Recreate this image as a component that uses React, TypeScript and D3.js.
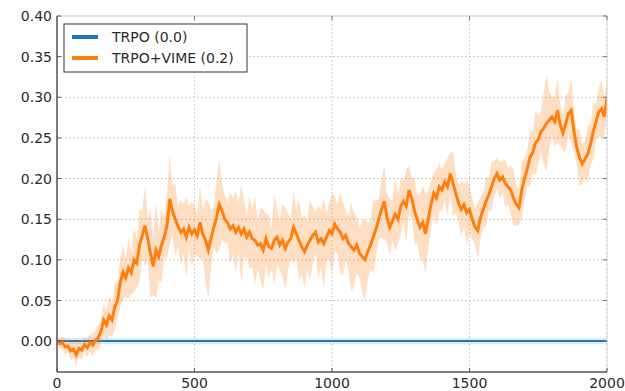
import * as d3 from 'd3'

const STEP = 10
const X_TICKS = [0, 500, 1000, 1500, 2000]
const Y_TICKS = [0, 0.05, 0.1, 0.15, 0.2, 0.25, 0.3, 0.35, 0.4]

const TRPO_ITERS = [0, 2000]
const TRPO_MEAN = [0, 0]
const TRPO_SPREAD = [0.004, 0.004]

// TRPO+VIME mean, one value every 10 iterations (0..2000)
const VIME_MEAN = [
  0.000,
  -0.003, -0.002, -0.007, -0.006, -0.012, -0.010, -0.017, -0.009, -0.011, -0.004,
  -0.008, -0.002, -0.005, 0.001, 0.004, 0.012, 0.026, 0.020, 0.031, 0.026,
  0.042, 0.050, 0.072, 0.085, 0.078, 0.090, 0.084, 0.100, 0.096, 0.118,
  0.130, 0.142, 0.126, 0.108, 0.092, 0.112, 0.104, 0.118, 0.128, 0.142,
  0.175, 0.160, 0.150, 0.141, 0.134, 0.138, 0.128, 0.140, 0.132, 0.137,
  0.130, 0.146, 0.132, 0.124, 0.112, 0.126, 0.140, 0.152, 0.168, 0.160,
  0.150, 0.146, 0.138, 0.142, 0.134, 0.140, 0.132, 0.138, 0.128, 0.134,
  0.126, 0.124, 0.118, 0.120, 0.112, 0.126, 0.116, 0.114, 0.124, 0.128,
  0.118, 0.124, 0.114, 0.122, 0.126, 0.140, 0.132, 0.124, 0.116, 0.110,
  0.118, 0.124, 0.130, 0.134, 0.122, 0.126, 0.120, 0.128, 0.136, 0.132,
  0.144, 0.138, 0.134, 0.126, 0.130, 0.120, 0.116, 0.112, 0.118, 0.108,
  0.104, 0.100, 0.110, 0.118, 0.128, 0.138, 0.150, 0.162, 0.172, 0.152,
  0.140, 0.148, 0.156, 0.150, 0.166, 0.172, 0.166, 0.186, 0.176, 0.160,
  0.150, 0.140, 0.146, 0.132, 0.150, 0.168, 0.182, 0.176, 0.190, 0.186,
  0.196, 0.190, 0.206, 0.194, 0.182, 0.170, 0.162, 0.168, 0.158, 0.162,
  0.150, 0.140, 0.136, 0.152, 0.162, 0.172, 0.180, 0.190, 0.200, 0.206,
  0.198, 0.202, 0.194, 0.190, 0.186, 0.176, 0.168, 0.164, 0.186, 0.200,
  0.212, 0.226, 0.232, 0.244, 0.248, 0.258, 0.262, 0.268, 0.272, 0.276,
  0.270, 0.284, 0.266, 0.256, 0.268, 0.280, 0.284, 0.258, 0.238, 0.226,
  0.218, 0.224, 0.230, 0.242, 0.258, 0.270, 0.282, 0.286, 0.276, 0.300,
]

// half width of the shaded band, same spacing
const VIME_SPREAD = [
  0.004, 0.006, 0.008, 0.010, 0.008, 0.012, 0.010, 0.014, 0.010, 0.012, 0.008, 0.012, 0.010, 0.014, 0.012, 0.016,
  0.015, 0.020, 0.018, 0.024, 0.020, 0.028, 0.022, 0.030, 0.034, 0.024, 0.038, 0.026, 0.040, 0.030, 0.045,
  0.030, 0.050, 0.025, 0.055, 0.035, 0.060, 0.030, 0.045, 0.025, 0.040,
  0.055, 0.030, 0.045, 0.025, 0.040, 0.030, 0.050, 0.025, 0.040, 0.030,
  0.025, 0.045, 0.030, 0.050, 0.060, 0.035, 0.025, 0.045, 0.055, 0.035,
  0.030, 0.025, 0.045, 0.035, 0.050, 0.030, 0.060, 0.035, 0.025, 0.045,
  0.035, 0.055, 0.030, 0.045, 0.050, 0.030, 0.040, 0.025, 0.055, 0.035,
  0.030, 0.045, 0.050, 0.035, 0.025, 0.045, 0.030, 0.050, 0.035, 0.045,
  0.030, 0.050, 0.035, 0.025, 0.045, 0.035, 0.055, 0.030, 0.035, 0.050,
  0.035, 0.030, 0.050, 0.045, 0.030, 0.035, 0.055, 0.045, 0.035, 0.030,
  0.045, 0.050, 0.035, 0.030, 0.045, 0.035, 0.025, 0.035, 0.045, 0.030,
  0.035, 0.025, 0.045, 0.030, 0.035, 0.025, 0.045, 0.030, 0.025, 0.040,
  0.030, 0.040, 0.045, 0.050, 0.035, 0.030, 0.025, 0.035, 0.030, 0.025,
  0.022, 0.035, 0.025, 0.040, 0.025, 0.022, 0.035, 0.025, 0.040, 0.030,
  0.025, 0.022, 0.035, 0.025, 0.022, 0.030, 0.020, 0.030, 0.022, 0.020,
  0.022, 0.020, 0.030, 0.022, 0.030, 0.035, 0.025, 0.022, 0.035, 0.025,
  0.022, 0.035, 0.025, 0.040, 0.030, 0.025, 0.045, 0.060, 0.035, 0.025,
  0.030, 0.040, 0.025, 0.022, 0.035, 0.025, 0.040, 0.025, 0.022, 0.035,
  0.025, 0.022, 0.035, 0.025, 0.035, 0.022, 0.030, 0.035, 0.025, 0.022,
]

const SERIES = [
  { name: 'TRPO (0.0)', color: '#1f77b4' },
  { name: 'TRPO+VIME (0.2)', color: '#ff7f0e' },
]

const W = 625
const H = 391
const pad = { l: 57, r: 18, t: 16, b: 19 }
const FONT = 'DejaVu Sans, sans-serif'
const TEXT = '#2b2b2b'

type Pt = { x: number; m: number; s: number }

export default function App() {
  const x = d3.scaleLinear().domain([0, 2000]).range([pad.l, W - pad.r])
  const y = d3.scaleLinear().domain([-0.038, 0.4]).range([H - pad.b, pad.t])

  const vime: Pt[] = VIME_MEAN.map((m, i) => ({ x: i * STEP, m, s: VIME_SPREAD[i] }))
  const trpo: Pt[] = TRPO_ITERS.map((it, i) => ({ x: it, m: TRPO_MEAN[i], s: TRPO_SPREAD[i] }))

  const band = d3.area<Pt>().x(d => x(d.x)).y0(d => y(d.m - d.s)).y1(d => y(d.m + d.s))
  const line = d3.line<Pt>().x(d => x(d.x)).y(d => y(d.m))

  const [x0, x1] = x.range()
  const [yb, yt] = y.range()

  return (
    <svg width={W} height={H} style={{ position: 'fixed', left: 0, top: 0, background: '#fff' }}>
      <defs>
        <clipPath id="plot">
          <rect x={x0} y={yt} width={x1 - x0} height={yb - yt} />
        </clipPath>
      </defs>
      <rect x={0} y={0} width={W} height={H} fill="#fff" />

      {/* grid */}
      {Y_TICKS.map(t => (
        <line key={'gy' + t} x1={x0} x2={x1} y1={y(t)} y2={y(t)} stroke="#b5b5b5" strokeWidth={1} strokeDasharray="1.5,2.5" />
      ))}
      {X_TICKS.map(t => (
        <line key={'gx' + t} x1={x(t)} x2={x(t)} y1={yt} y2={yb} stroke="#c4c4c4" strokeWidth={1} strokeDasharray="1.5,2.5" />
      ))}

      <g clipPath="url(#plot)">
        <path d={band(trpo) || ''} fill={SERIES[0].color} opacity={0.15} />
        <path d={line(trpo) || ''} fill="none" stroke={SERIES[0].color} strokeWidth={2} />
        <path d={band(vime) || ''} fill={SERIES[1].color} opacity={0.25} />
        <path d={line(vime) || ''} fill="none" stroke={SERIES[1].color} strokeWidth={3} strokeLinejoin="miter" />
      </g>

      {/* frame */}
      <line x1={x0} x2={x1} y1={yt} y2={yt} stroke="#d6d6d6" strokeWidth={1} />
      <line x1={x1} x2={x1} y1={yt} y2={yb} stroke="#d6d6d6" strokeWidth={1} />
      <line x1={x0} x2={x0} y1={yt} y2={yb} stroke="#555" strokeWidth={1.5} />
      <line x1={x0} x2={x1} y1={yb} y2={yb} stroke="#555" strokeWidth={1.5} />

      {/* ticks */}
      {Y_TICKS.map(t => (
        <g key={'ty' + t}>
          <line x1={x0} x2={x0 + 4} y1={y(t)} y2={y(t)} stroke="#555" />
          <line x1={x1} x2={x1 - 4} y1={y(t)} y2={y(t)} stroke="#777" />
          <text x={x0 - 5} y={y(t)} dy="0.36em" textAnchor="end" fontSize={14} fontFamily={FONT} fill={TEXT}>
            {t.toFixed(2)}
          </text>
        </g>
      ))}
      {X_TICKS.map(t => (
        <g key={'tx' + t}>
          <line x1={x(t)} x2={x(t)} y1={yb} y2={yb - 4} stroke="#555" />
          <line x1={x(t)} x2={x(t)} y1={yt} y2={yt + 4} stroke="#777" />
          <text x={x(t)} y={yb + 16} textAnchor="middle" fontSize={14} fontFamily={FONT} fill={TEXT}>
            {t}
          </text>
        </g>
      ))}

      {/* legend */}
      <g>
        <rect x={64} y={24} width={183} height={48} fill="#fff" stroke="#333" strokeWidth={1} />
        {SERIES.map((s, i) => (
          <g key={s.name}>
            <line x1={72} x2={98} y1={37 + i * 21} y2={37 + i * 21} stroke={s.color} strokeWidth={4} />
            <text x={112} y={37 + i * 21} dy="0.36em" fontSize={14} fontFamily={FONT} fill={TEXT}>
              {s.name}
            </text>
          </g>
        ))}
      </g>
    </svg>
  )
}
